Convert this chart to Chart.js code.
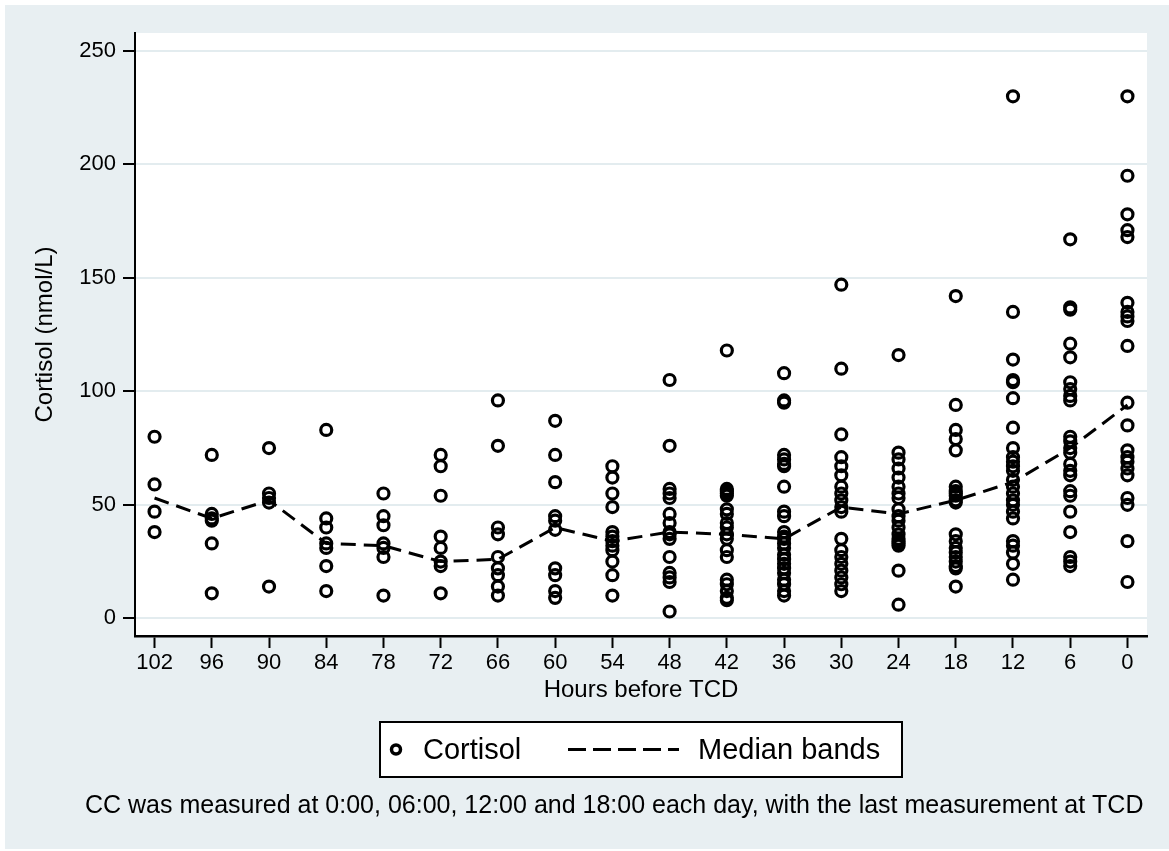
<!DOCTYPE html>
<html>
<head>
<meta charset="utf-8">
<title>Cortisol before TCD</title>
<script src="https://cdn.jsdelivr.net/npm/chart.js@4.4.1/dist/chart.umd.min.js"></script>
<style>
  html, body { margin: 0; padding: 0; background: #fff; }
  canvas { display: block; }
</style>
</head>
<body>
<canvas id="cortisolChart" width="1169" height="851"></canvas>
<script>
// hours before TCD (x axis runs from 102 down to 0)
const hours = [102, 96, 90, 84, 78, 72, 66, 60, 54, 48, 42, 36, 30, 24, 18, 12, 6, 0];

// cortisol samples (nmol/L) at each time point
const h102 = [80, 59, 47, 38];
const h96 = [72, 46, 44, 43, 33, 11];
const h90 = [75, 55, 53, 51, 14];
const h84 = [83, 44, 40, 33, 31, 23, 12];
const h78 = [55, 45, 41, 33, 31, 27, 10];
const h72 = [72, 67, 54, 36, 31, 25, 23, 11];
const h66 = [96, 76, 40, 37, 27, 22, 19, 14, 10];
const h60 = [87, 72, 60, 45, 43, 39, 22, 19, 12, 9];
const h54 = [67, 62, 55, 49, 38, 36, 34, 32, 30, 25, 19, 10];
const h48 = [105, 76, 57, 55, 53, 46, 42, 38, 37, 35, 27, 20, 18, 16, 3];
const h42 = [118, 57, 56, 55, 54, 48, 46, 42, 40, 37, 35, 30, 27, 17, 15, 12, 9, 8];
const h36 = [108, 96, 95, 72, 70, 68, 67, 58, 47, 45, 38, 36, 35, 33, 31, 28, 26, 24, 22, 20, 17, 15, 12, 10];
const h30 = [147, 110, 81, 71, 67, 63, 58, 55, 52, 49, 47, 35, 30, 27, 24, 21, 18, 15, 12];
const h24 = [116, 73, 70, 66, 62, 58, 55, 53, 48, 45, 43, 40, 37, 35, 34, 33, 32, 21, 6];
const h18 = [142, 94, 83, 79, 74, 58, 56, 55, 54, 52, 51, 37, 34, 31, 29, 27, 25, 23, 22, 14];
const h12 = [230, 135, 114, 105, 104, 97, 84, 75, 71, 69, 67, 65, 61, 58, 55, 52, 50, 47, 44, 34, 32, 29, 24, 17];
const h6 = [167, 137, 136, 121, 115, 104, 101, 98, 96, 80, 78, 75, 73, 68, 65, 63, 56, 54, 47, 38, 27, 25, 23];
const h0 = [230, 195, 178, 171, 168, 139, 135, 133, 131, 120, 95, 85, 74, 71, 69, 66, 63, 53, 50, 34, 16];

// median band per time point
const medianBands = [53, 44, 52, 33, 32, 25, 26, 40, 34, 38, 37, 35, 49, 46, 52, 60, 75, 94];

const yTicks = [0, 50, 100, 150, 200, 250];

const samples = [h102, h96, h90, h84, h78, h72, h66, h60, h54, h48, h42, h36, h30, h24, h18, h12, h6, h0];
const cortisolPoints = [];
hours.forEach((h, i) => samples[i].forEach(v => cortisolPoints.push({ x: h, y: v })));
const medianPoints = hours.map((h, i) => ({ x: h, y: medianBands[i] }));

const FONT = "'Liberation Sans', Arial, sans-serif";

// grey page, white plot region
const background = {
  id: 'background',
  beforeDraw(chart) {
    const { ctx, chartArea: a } = chart;
    ctx.save();
    ctx.fillStyle = '#ffffff';
    ctx.fillRect(0, 0, chart.width, chart.height);
    ctx.fillStyle = '#e8eff2';
    ctx.fillRect(5, 5, chart.width - 5, chart.height - 7);
    ctx.fillStyle = '#ffffff';
    ctx.fillRect(a.left, a.top, a.right - a.left, a.bottom - a.top);
    ctx.restore();
  }
};

// boxed legend under the x axis title, plus the footnote
const legendAndNote = {
  id: 'legendAndNote',
  afterDraw(chart) {
    const { ctx, chartArea: a } = chart;
    const ds = chart.data.datasets;
    const w = 522, h = 55;
    const cx = (a.left + a.right) / 2;
    const left = cx - w / 2, top = 722, midY = top + h / 2;

    ctx.save();
    ctx.fillStyle = '#fff';
    ctx.fillRect(left, top, w, h);
    ctx.strokeStyle = '#000';
    ctx.lineWidth = 2;
    ctx.strokeRect(left, top, w, h);

    // circle marker
    ctx.beginPath();
    ctx.arc(left + 16, midY, 4.5, 0, Math.PI * 2);
    ctx.lineWidth = 3.5;
    ctx.stroke();

    // dashed line sample
    ctx.beginPath();
    ctx.setLineDash([18, 7]);
    ctx.lineWidth = 3;
    ctx.moveTo(left + 188, midY);
    ctx.lineTo(left + 299, midY);
    ctx.stroke();
    ctx.setLineDash([]);

    ctx.fillStyle = '#000';
    ctx.font = '29px ' + FONT;
    ctx.textBaseline = 'middle';
    ctx.textAlign = 'left';
    ctx.fillText(ds[0].label, left + 43, midY + 1);
    ctx.fillText(ds[1].label, left + 318, midY + 1);

    ctx.font = '25px ' + FONT;
    ctx.fillText('CC was measured at 0:00, 06:00, 12:00 and 18:00 each day, with the last measurement at TCD', 85, 806);
    ctx.restore();
  }
};

new Chart(document.getElementById('cortisolChart'), {
  type: 'scatter',
  data: {
    datasets: [{
      label: 'Cortisol',
      data: cortisolPoints,
      pointStyle: 'circle',
      pointRadius: 5.5,
      pointBorderWidth: 3.2,
      pointBorderColor: '#000',
      pointBackgroundColor: 'rgba(0,0,0,0)'
    }, {
      label: 'Median bands',
      data: medianPoints,
      showLine: true,
      pointRadius: 0,
      borderColor: '#000',
      borderWidth: 3,
      borderDash: [15, 8],
      tension: 0
    }]
  },
  options: {
    responsive: false,
    animation: false,
    devicePixelRatio: 1,
    layout: { padding: { top: 33, right: 22, left: 0, bottom: 0 } },
    plugins: { legend: { display: false }, tooltip: { enabled: false } },
    scales: {
      x: {
        type: 'linear',
        reverse: true,
        min: -2.05,
        max: 104.05,
        afterFit: s => { s.height = 215; },
        afterBuildTicks: s => { s.ticks = hours.map(v => ({ value: v })); },
        border: { display: true, color: '#000', width: 2.5 },
        grid: { drawOnChartArea: false, drawTicks: true, tickLength: 12, tickColor: '#000', tickWidth: 2 },
        ticks: { color: '#000', font: { family: FONT, size: 22 }, padding: 2, autoSkip: false, maxRotation: 0 },
        title: {
          display: true,
          text: 'Hours before TCD',
          color: '#000',
          font: { family: FONT, size: 24 },
          padding: { top: 0, bottom: 146 }
        }
      },
      y: {
        min: -7.8,
        max: 257.9,
        afterFit: s => { s.width = 135; },
        afterBuildTicks: s => { s.ticks = yTicks.map(v => ({ value: v })); },
        border: { display: true, color: '#000', width: 2 },
        grid: { color: '#e3ecef', lineWidth: 2, drawTicks: true, tickLength: 12, tickColor: '#000', tickWidth: 2 },
        ticks: { color: '#000', font: { family: FONT, size: 22 }, padding: 7 },
        title: {
          display: true,
          text: 'Cortisol (nmol/L)',
          color: '#000',
          font: { family: FONT, size: 24 },
          padding: { top: 31, bottom: 0 }
        }
      }
    }
  },
  plugins: [background, legendAndNote]
});
</script>
</body>
</html>
